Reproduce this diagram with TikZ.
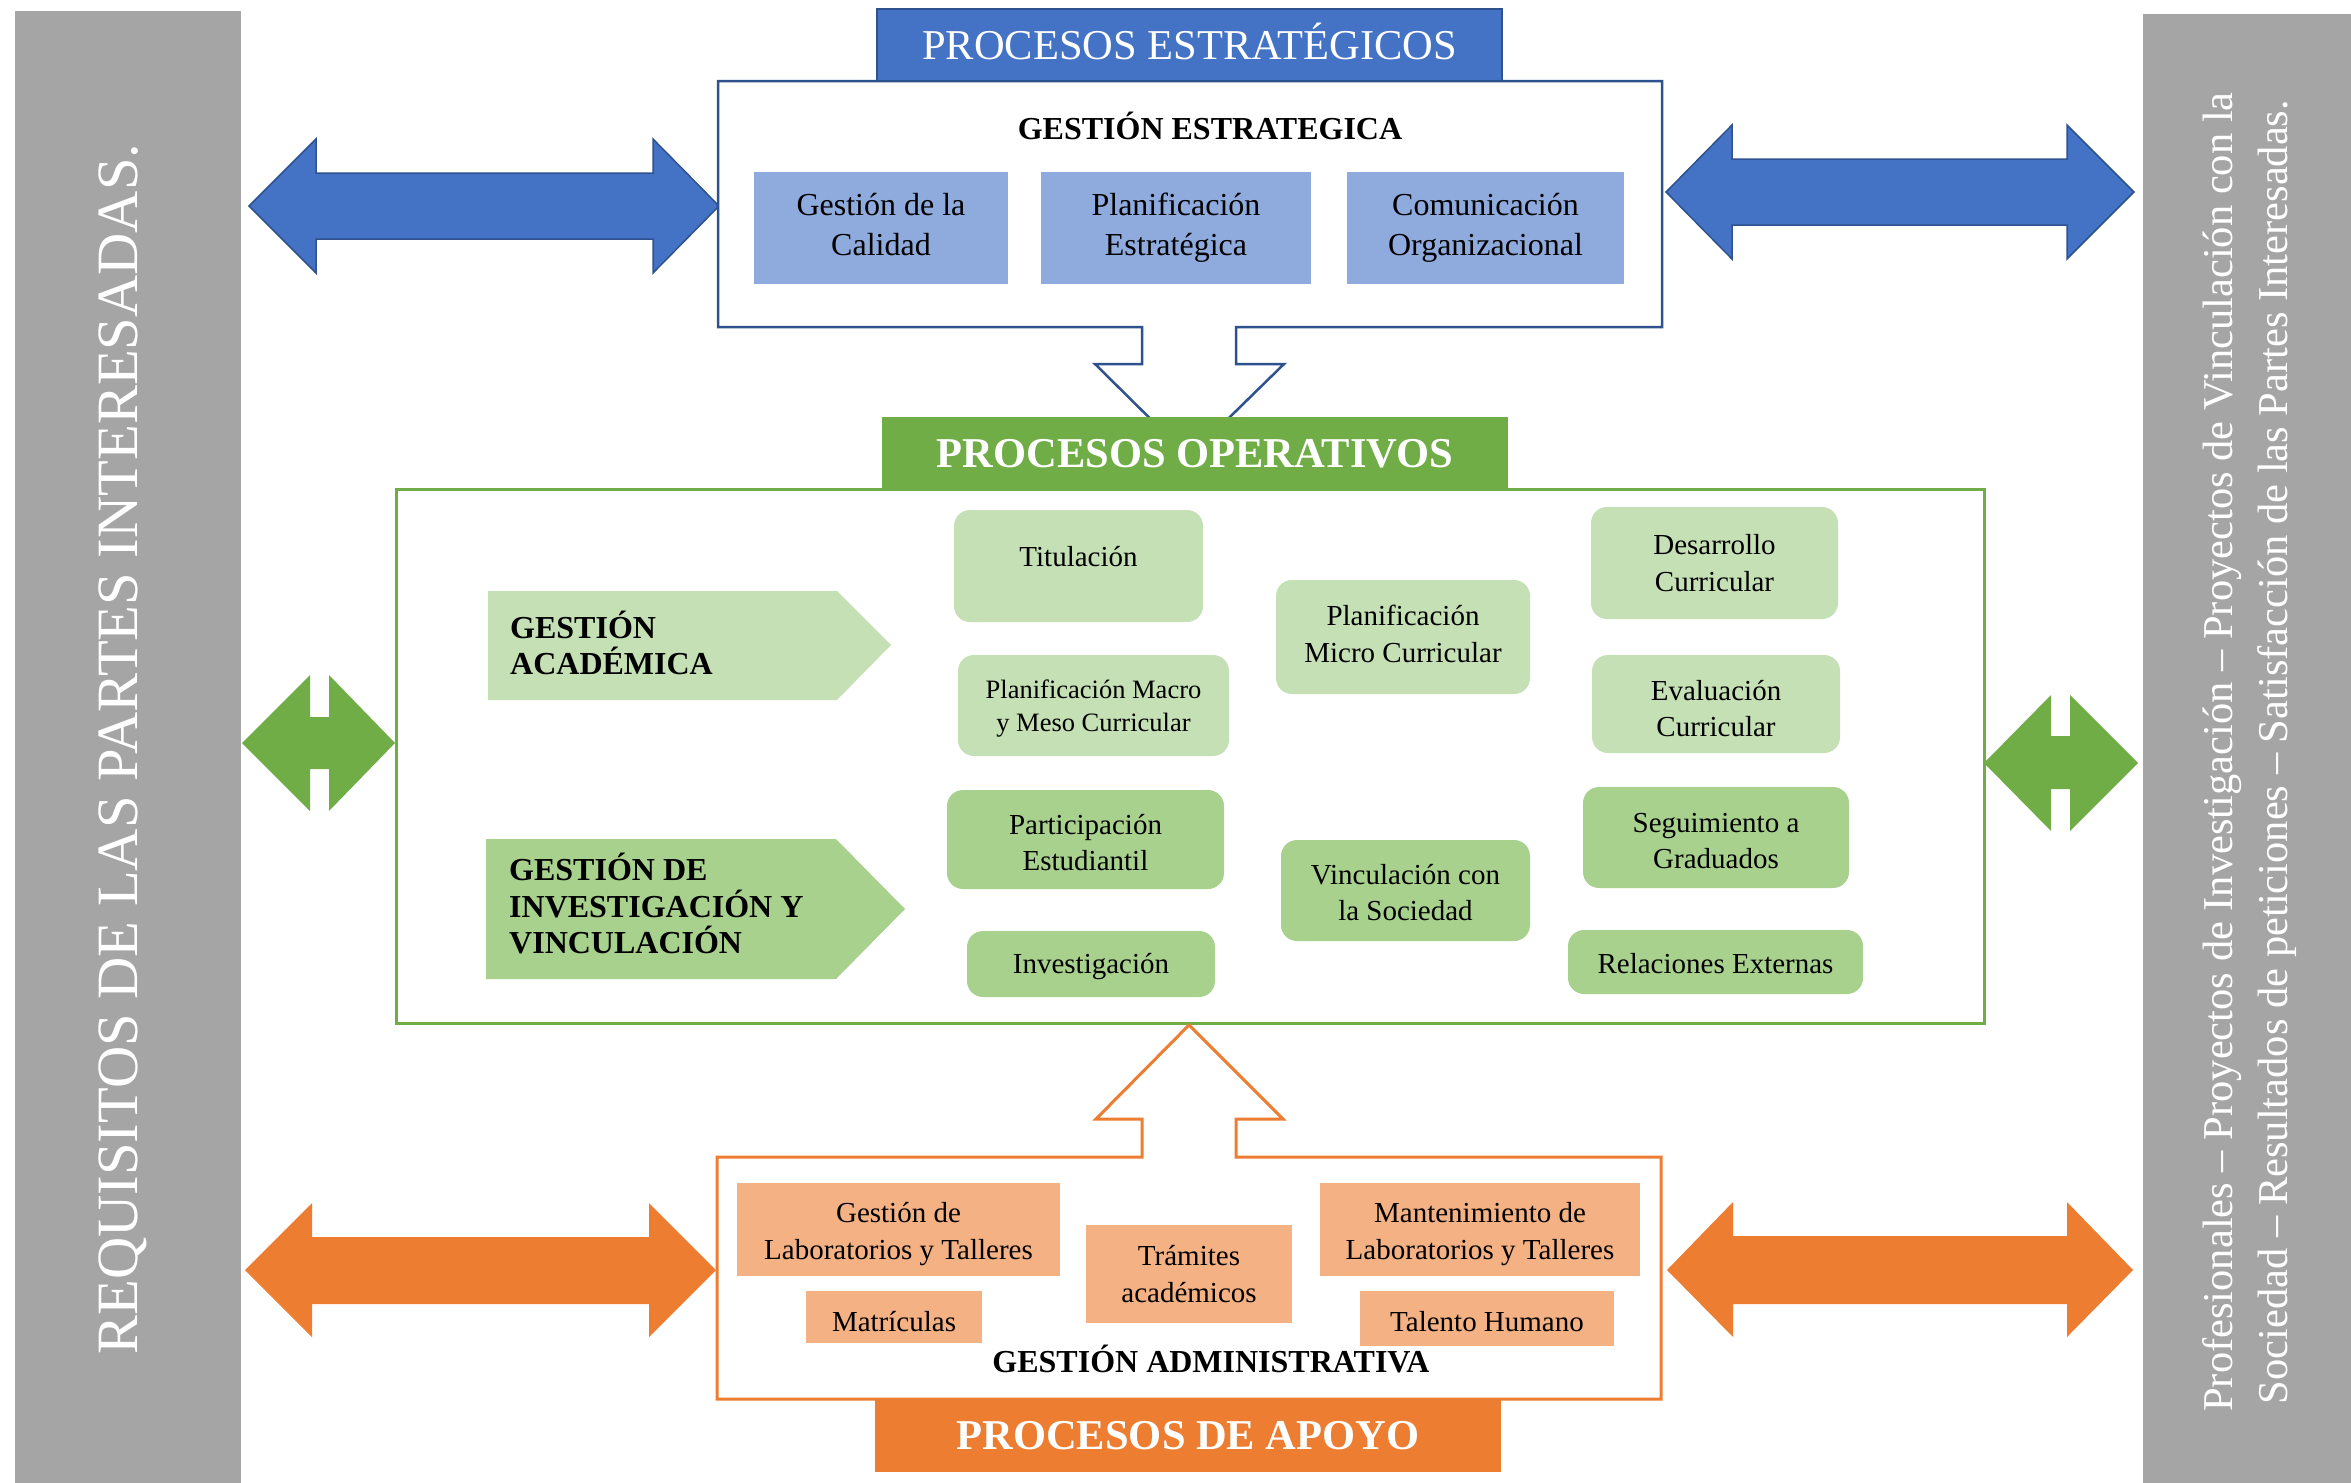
\documentclass[tikz,border=0pt]{standalone}
\usepackage{fontspec}
\setmainfont{Liberation Serif}

\definecolor{gris}{HTML}{A5A5A5}
\definecolor{azul}{HTML}{4472C4}
\definecolor{azuloscuro}{HTML}{2F528F}
\definecolor{azulclaro}{HTML}{8FAADC}
\definecolor{verde}{HTML}{70AD47}
\definecolor{verdeclaro}{HTML}{C5E0B4}
\definecolor{verdemedio}{HTML}{A9D18E}
\definecolor{naranja}{HTML}{ED7D31}
\definecolor{naranjaclaro}{HTML}{F4B183}

% invisible struts to balance the text inside the boxes
\newcommand{\alto}[1]{\rule{0pt}{#1}}
\newcommand{\hondo}[1]{\rule[-#1]{0pt}{#1}}

\begin{document}
\begin{tikzpicture}[x=1pt,y=-1pt,
  bar/.style={rectangle, fill=gris, inner sep=0pt, anchor=north west},
  hdr/.style={rectangle, inner sep=0pt, text=white, text height=28pt, text depth=0pt},
  blockblue/.style={fill=azul, draw=azuloscuro, line width=1.5pt, line join=miter},
  blockgreen/.style={fill=verde},
  blockorange/.style={fill=naranja},
  sbox/.style={rectangle, fill=azulclaro, inner sep=0pt, align=center,
    font=\fontsize{32}{40}\selectfont},
  gbox/.style={rectangle, rounded corners=16pt, inner sep=0pt, align=center,
    font=\fontsize{29}{36.5}\selectfont},
  obox/.style={rectangle, fill=naranjaclaro, inner sep=0pt, align=center,
    font=\fontsize{29}{37}\selectfont},
  ttl/.style={inner sep=0pt, font=\fontsize{32}{40}\selectfont\bfseries,
    text height=21.5pt, text depth=0pt},
  lbl/.style={inner sep=0pt, align=left, anchor=west,
    font=\fontsize{32}{36.5}\selectfont\bfseries}
]
\useasboundingbox (0,0) rectangle (2351,1483);
\fill[white] (0,0) rectangle (2351,1483);

% side bars with the stakeholder texts
\node[bar, minimum width=226pt, minimum height=1472pt] (reqbar) at (15,11) {};
\node[bar, minimum width=208pt, minimum height=1469pt] (resbar) at (2143,14) {};
\node[rotate=90, anchor=base, inner sep=0pt, text=white,
  font=\fontsize{58.5}{70}\selectfont] (reqtext) at (137,749)
  {REQUISITOS DE LAS PARTES INTERESADAS.};
\node[rotate=90, inner sep=0pt, text=white, align=center,
  font=\fontsize{42.5}{55}\selectfont] (restext) at (2250,752)
  {Profesionales – Proyectos de Investigación – Proyectos de Vinculación con la\\
   Sociedad – Resultados de peticiones – Satisfacción de las Partes Interesadas.};

% double block arrows between the bars and the process groups
\path[blockblue] (249,206) -- (316,139) -- (316,173) -- (653,173) -- (653,139)
  -- (719,206) -- (653,273) -- (653,239) -- (316,239) -- (316,273) -- cycle;
\path[blockblue] (1666,192) -- (1732,125) -- (1732,159) -- (2067,159) -- (2067,125)
  -- (2134,192) -- (2067,259) -- (2067,225) -- (1732,225) -- (1732,259) -- cycle;
\path[blockgreen] (242,743) -- (310,675) -- (310,717) -- (329,717) -- (329,675)
  -- (395,743) -- (329,811) -- (329,769) -- (310,769) -- (310,811) -- cycle;
\path[blockgreen] (1984,763) -- (2051,695) -- (2051,736) -- (2070,736) -- (2070,695)
  -- (2138,763) -- (2070,831) -- (2070,789) -- (2051,789) -- (2051,831) -- cycle;
\path[blockorange] (245,1270) -- (312,1203) -- (312,1237) -- (649,1237) -- (649,1203)
  -- (716,1270) -- (649,1337) -- (649,1304) -- (312,1304) -- (312,1337) -- cycle;
\path[blockorange] (1667,1270) -- (1733,1202) -- (1733,1236) -- (2067,1236) -- (2067,1202)
  -- (2133,1270) -- (2067,1337) -- (2067,1304) -- (1733,1304) -- (1733,1337) -- cycle;

% strategic frame with its downward arrow
\draw[azuloscuro, fill=white, line width=2.5pt, line join=miter]
  (718,81) -- (1662,81) -- (1662,327) -- (1236,327) -- (1236,364) -- (1284,364)
  -- (1189,457) -- (1095,364) -- (1142,364) -- (1142,327) -- (718,327) -- cycle;

% operative frame
\node[rectangle, draw=verde, fill=white, line width=3pt, inner sep=0pt,
  minimum width=1588pt, minimum height=534pt] (opbox) at (1190,756) {};

% support frame with its upward arrow
\draw[naranja, fill=white, line width=3pt, line join=miter]
  (717,1157) -- (1142,1157) -- (1142,1119) -- (1096,1119) -- (1189,1025)
  -- (1283,1119) -- (1236,1119) -- (1236,1157) -- (1661,1157) -- (1661,1399)
  -- (717,1399) -- cycle;

% group headers
\node[hdr, fill=azul, draw=azuloscuro, line width=2pt, minimum width=625pt,
  minimum height=72pt, font=\fontsize{42.5}{50}\selectfont] (estr) at (1189.5,45)
  {PROCESOS ESTRATÉGICOS};
\node[hdr, fill=verde, minimum width=626pt, minimum height=72pt,
  font=\fontsize{42.5}{50}\selectfont\bfseries] (oper) at (1195,453)
  {PROCESOS OPERATIVOS};
\node[hdr, fill=naranja, minimum width=626pt, minimum height=73pt,
  font=\fontsize{42.5}{50}\selectfont\bfseries] (apoyo) at (1188,1435)
  {PROCESOS DE APOYO};

% strategic management
\node[ttl] (gestr) at (1210,128.5) {GESTIÓN ESTRATEGICA};
\node[sbox, minimum width=254pt, minimum height=112pt] (calidad) at (881,228)
  {Gestión de la\\Calidad\hondo{7pt}};
\node[sbox, minimum width=270pt, minimum height=112pt] (planest) at (1176,228)
  {Planificación\\Estratégica};
\node[sbox, minimum width=277pt, minimum height=112pt] (comorg) at (1485.5,228)
  {Comunicación\\Organizacional};

% academic and research management
\path[fill=verdeclaro] (488,591) -- (837,591) -- (891,645) -- (837,700) -- (488,700) -- cycle;
\path[fill=verdemedio] (486,839) -- (836,839) -- (905,909) -- (836,979) -- (486,979) -- cycle;
\node[lbl] (gacad) at (510,643) {GESTIÓN\\ACADÉMICA};
\node[lbl] (ginv) at (509,904) {GESTIÓN DE\\INVESTIGACIÓN Y\\VINCULACIÓN};

\node[gbox, fill=verdeclaro, minimum width=249pt, minimum height=112pt,
  text depth=20pt] (titul) at (1078.5,566) {Titulación};
\node[gbox, fill=verdeclaro, minimum width=271pt, minimum height=101pt,
  font=\fontsize{26.5}{33}\selectfont] (macro) at (1093.5,705.5)
  {\alto{24.5pt}Planificación Macro\\y Meso Curricular};
\node[gbox, fill=verdeclaro, minimum width=254pt, minimum height=114pt] (micro)
  at (1403,637) {Planificación\\Micro Curricular\hondo{6pt}};
\node[gbox, fill=verdeclaro, minimum width=247pt, minimum height=112pt] (desa)
  at (1714.5,563) {Desarrollo\\Curricular};
\node[gbox, fill=verdeclaro, minimum width=248pt, minimum height=98pt] (evalc)
  at (1716,704) {\alto{29pt}Evaluación\\Curricular};

\node[gbox, fill=verdemedio, minimum width=277pt, minimum height=99pt] (partic)
  at (1085.5,839.5) {\alto{26pt}Participación\\Estudiantil};
\node[gbox, fill=verdemedio, minimum width=248pt, minimum height=66pt] (invest)
  at (1091,964) {\alto{26pt}Investigación};
\node[gbox, fill=verdemedio, minimum width=249pt, minimum height=101pt] (vincso)
  at (1405.5,890.5) {\alto{24pt}Vinculación con\\la Sociedad};
\node[gbox, fill=verdemedio, minimum width=266pt, minimum height=101pt] (segui)
  at (1716,837.5) {\alto{26pt}Seguimiento a\\Graduados};
\node[gbox, fill=verdemedio, minimum width=295pt, minimum height=64pt] (relext)
  at (1715.5,962) {\alto{23pt}Relaciones Externas};

% administrative management
\node[obox, minimum width=323pt, minimum height=93pt] (glab) at (898.5,1229.5)
  {\alto{30pt}Gestión de\\Laboratorios y Talleres};
\node[obox, minimum width=176pt, minimum height=52pt] (matri) at (894,1317)
  {\alto{29pt}Matrículas};
\node[obox, minimum width=206pt, minimum height=98pt] (tramit) at (1189,1274)
  {Trámites\\académicos};
\node[obox, minimum width=320pt, minimum height=93pt] (mlab) at (1480,1229.5)
  {\alto{30pt}Mantenimiento de\\Laboratorios y Talleres};
\node[obox, minimum width=254pt, minimum height=55pt] (talento) at (1487,1318.5)
  {\alto{26pt}Talento Humano};
\node[ttl] (gadm) at (1211,1362) {GESTIÓN ADMINISTRATIVA};
\end{tikzpicture}
\end{document}
